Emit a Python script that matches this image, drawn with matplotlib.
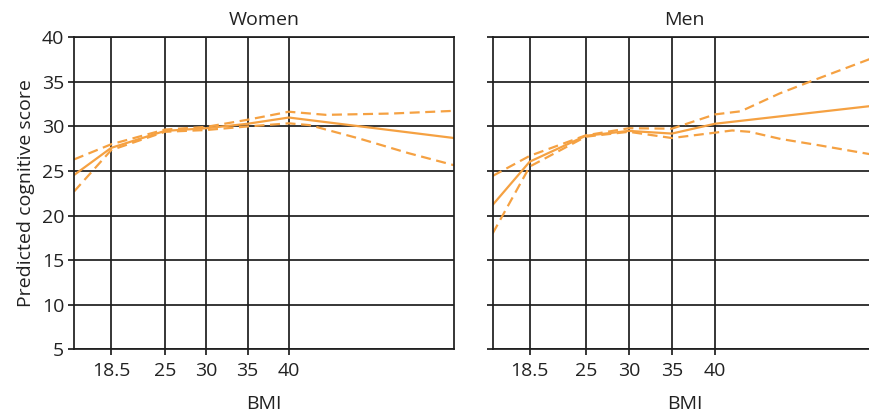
import matplotlib.pyplot as plt

# Women: predicted score with confidence bands
w_x = [14, 18.5, 25, 30, 35, 40, 60]
w_mid = [24.55, 27.6, 29.5, 29.8, 30.3, 31.0, 28.7]
w_up_x = [14, 18.5, 25, 30, 35, 40, 44.5, 52.5, 60]
w_up = [26.3, 28.0, 29.65, 29.95, 30.75, 31.65, 31.3, 31.45, 31.75]
w_lo_x = [14, 18.5, 25, 30, 35, 40, 42.5, 48.5, 54.5, 60]
w_lo = [22.7, 27.35, 29.4, 29.6, 30.0, 30.35, 30.15, 28.65, 27.0, 25.65]

# Men
m_x = [14.2, 18.5, 25, 30, 35, 40, 60]
m_mid = [21.2, 26.05, 28.95, 29.5, 29.2, 30.3, 32.5]
m_up_x = [14.2, 18.5, 25, 30, 35, 40, 43, 47.5, 51.5, 60]
m_up = [24.45, 26.7, 29.0, 29.8, 29.75, 31.35, 31.7, 33.7, 35.2, 38.3]
m_lo_x = [14.2, 18.5, 25, 30, 35, 40, 42, 44, 47.6, 52, 60]
m_lo = [18.0, 25.5, 28.85, 29.4, 28.7, 29.3, 29.55, 29.4, 28.6, 27.9, 26.55]

bmi_ticks = [18.5, 25, 30, 35, 40]
bmi_labels = ['18.5', '25', '30', '35', '40']
score_ticks = [5, 10, 15, 20, 25, 30, 35, 40]

orange = '#F5A142'
grid_c = '#1e1e1e'
fs = 14

plt.rcParams['font.family'] = ['Open Sans', 'DejaVu Sans']

fig = plt.figure(figsize=(8.7, 4.13), dpi=100)
ax_w = fig.add_axes([0.0851, 0.1542, 0.4368, 0.7555])
ax_m = fig.add_axes([0.5663, 0.1542, 0.4407, 0.7555])


def style_panel(ax, title, xlim, show_y):
    ax.set_xlim(*xlim)
    ax.set_ylim(5, 40)
    ax.set_xticks(bmi_ticks)
    ax.set_xticklabels(bmi_labels)
    ax.set_yticks(score_ticks)
    ax.grid(True, color=grid_c, linewidth=1.25)
    ax.set_axisbelow(True)
    for s in ax.spines.values():
        s.set_color(grid_c)
        s.set_linewidth(1.25)
    ax.tick_params(length=4, width=1.25, color=grid_c, labelsize=fs,
                   labelcolor='#222222', pad=3)
    ax.tick_params(axis='x', pad=5)
    if not show_y:
        ax.tick_params(axis='y', length=4, labelleft=False)
    ax.set_title(title, fontsize=fs, color='#222222', pad=9)
    ax.set_xlabel('BMI', fontsize=fs, color='#222222', labelpad=11)


for ax, xm, ym, xu, yu, xl, yl in [
        (ax_w, w_x, w_mid, w_up_x, w_up, w_lo_x, w_lo),
        (ax_m, m_x, m_mid, m_up_x, m_up, m_lo_x, m_lo)]:
    ax.plot(xm, ym, color=orange, linewidth=1.6)
    ax.plot(xu, yu, color=orange, linewidth=1.6, dashes=(4.5, 2.5))
    ax.plot(xl, yl, color=orange, linewidth=1.6, dashes=(4.5, 2.5))

style_panel(ax_w, 'Women', (14, 60), True)
style_panel(ax_m, 'Men', (14.2, 58.7), False)
ax_w.set_ylabel('Predicted cognitive score', fontsize=fs, color='#222222',
                labelpad=5)

fig.savefig('out.png', dpi=100)
